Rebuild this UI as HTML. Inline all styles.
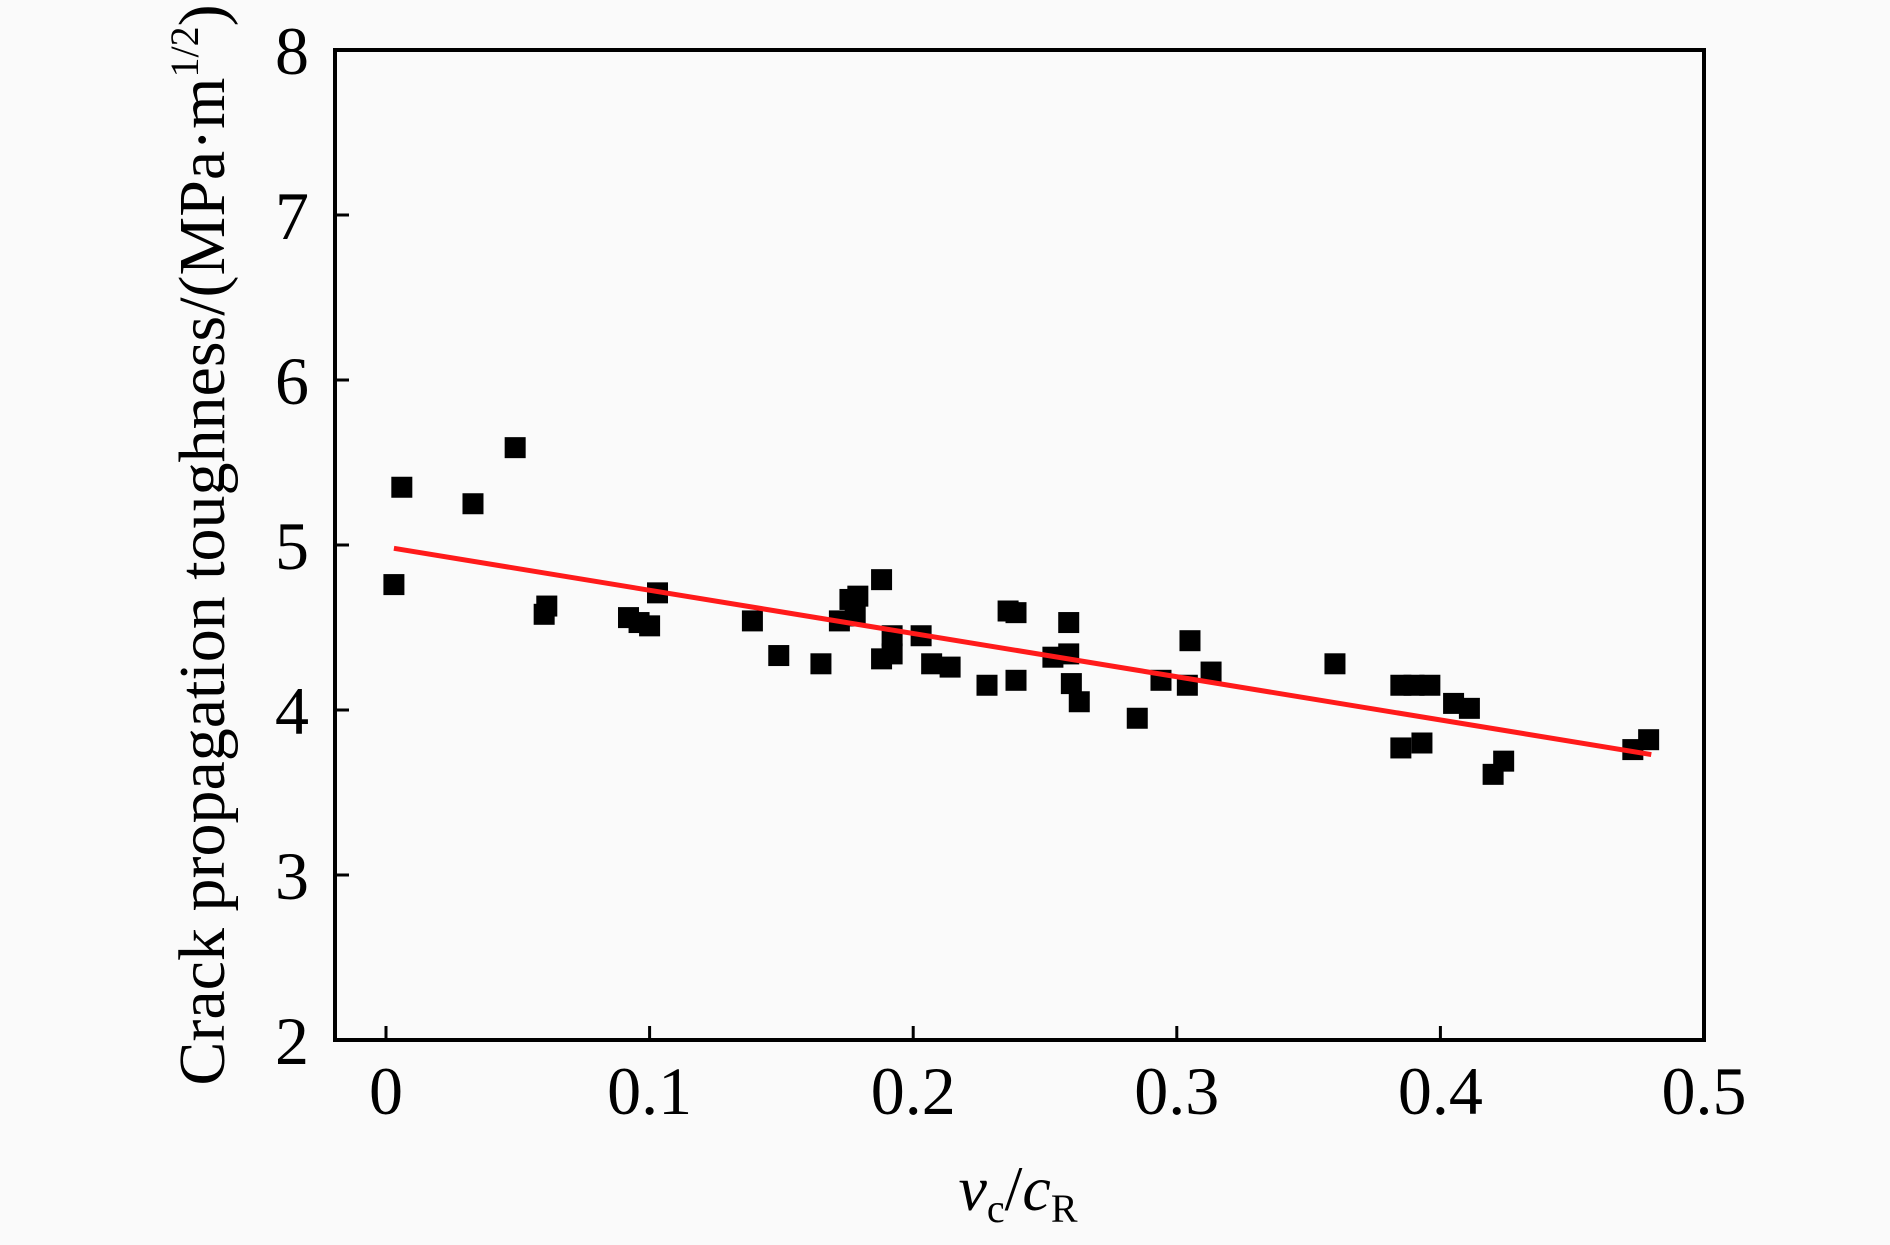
<!DOCTYPE html>
<html><head><meta charset="utf-8"><style>
html,body{margin:0;padding:0;background:#fafafa;}
svg{display:block;font-family:"Liberation Serif","Times New Roman",serif;}
</style></head><body>
<svg id="chart" width="1890" height="1245" viewBox="0 0 1890 1245" xmlns="http://www.w3.org/2000/svg">
<rect x="0" y="0" width="1890" height="1245" fill="#fafafa"/>
<g id="marks"></g>
<rect x="335" y="50" width="1369" height="990" fill="none" stroke="#000" stroke-width="4"/>
<g id="ticks"></g>
<text x="1018" y="1210" font-size="64" text-anchor="middle"><tspan font-style="italic">v</tspan><tspan font-size="40" dy="12">c</tspan><tspan dy="-12">/</tspan><tspan font-style="italic">c</tspan><tspan font-size="40" dy="12">R</tspan></text>
<text transform="translate(224,545) rotate(-90)" font-size="66" text-anchor="middle">Crack propagation toughness/(MPa·m<tspan font-size="40" dy="-26">1/2</tspan><tspan dy="26">)</tspan></text>
</svg>
<script>
const xData = [0.003,0.006,0.033,0.049,0.061,0.060,0.092,0.096,0.100,0.103,0.139,0.149,0.165,0.172,0.176,0.179,0.178,0.188,0.188,0.192,0.192,0.203,0.207,0.214,0.228,0.236,0.239,0.239,0.253,0.259,0.259,0.260,0.263,0.285,0.294,0.304,0.305,0.313,0.360,0.385,0.390,0.396,0.385,0.393,0.405,0.411,0.420,0.424,0.473,0.479];
const yData = [4.76,5.35,5.25,5.59,4.63,4.58,4.56,4.53,4.51,4.71,4.54,4.33,4.28,4.54,4.67,4.69,4.57,4.79,4.31,4.34,4.45,4.45,4.28,4.26,4.15,4.60,4.59,4.18,4.32,4.53,4.34,4.16,4.05,3.95,4.18,4.15,4.42,4.23,4.28,4.15,4.15,4.15,3.77,3.80,4.04,4.01,3.61,3.69,3.76,3.82];
const fitX = [0.003,0.480];
const fitY = [4.98,3.73];
const xTicks = [0,0.1,0.2,0.3,0.4,0.5];
const xTickLabels = ["0","0.1","0.2","0.3","0.4","0.5"];
const yTicks = [2,3,4,5,6,7,8];
const yTickLabels = ["2","3","4","5","6","7","8"];

const NS = "http://www.w3.org/2000/svg";
const X0 = 386, X1 = 1704, Y0 = 1040, Y1 = 50;
function sx(v){ return X0 + (v-0)/(0.5-0)*(X1-X0); }
function sy(v){ return Y0 - (v-2)/(8-2)*(Y0-Y1); }
const marks = document.getElementById('marks');
const ticks = document.getElementById('ticks');

for (let i=0;i<xData.length;i++){
  const r = document.createElementNS(NS,'rect');
  const s = 21;
  r.setAttribute('x', sx(xData[i]) - s/2);
  r.setAttribute('y', sy(yData[i]) - s/2);
  r.setAttribute('width', s);
  r.setAttribute('height', s);
  r.setAttribute('fill', '#000');
  
  
  marks.appendChild(r);
}
const ln = document.createElementNS(NS,'line');
ln.setAttribute('x1', sx(fitX[0])); ln.setAttribute('y1', sy(fitY[0]));
ln.setAttribute('x2', sx(fitX[1])); ln.setAttribute('y2', sy(fitY[1]));
ln.setAttribute('stroke', '#ff1a1a'); ln.setAttribute('stroke-width', '5');


marks.appendChild(ln);

xTicks.forEach((v,i)=>{
  const x = sx(v);
  const t = document.createElementNS(NS,'line');
  t.setAttribute('x1', x); t.setAttribute('x2', x);
  t.setAttribute('y1', Y0); t.setAttribute('y2', Y0-14);
  t.setAttribute('stroke', '#000'); t.setAttribute('stroke-width', '3');
  
  
  ticks.appendChild(t);
  const tx = document.createElementNS(NS,'text');
  tx.setAttribute('x', x); tx.setAttribute('y', 1114);
  tx.setAttribute('font-size', '68'); tx.setAttribute('text-anchor', 'middle');
  tx.textContent = xTickLabels[i];
  
  
  ticks.appendChild(tx);
});
yTicks.forEach((v,i)=>{
  const y = sy(v);
  const t = document.createElementNS(NS,'line');
  t.setAttribute('x1', 335); t.setAttribute('x2', 349);
  t.setAttribute('y1', y); t.setAttribute('y2', y);
  t.setAttribute('stroke', '#000'); t.setAttribute('stroke-width', '3');
  
  
  ticks.appendChild(t);
  const tx = document.createElementNS(NS,'text');
  tx.setAttribute('x', 309); tx.setAttribute('y', y + 24);
  tx.setAttribute('font-size', '68'); tx.setAttribute('text-anchor', 'end');
  tx.textContent = yTickLabels[i];
  
  
  ticks.appendChild(tx);
});
</script>
</body></html>
